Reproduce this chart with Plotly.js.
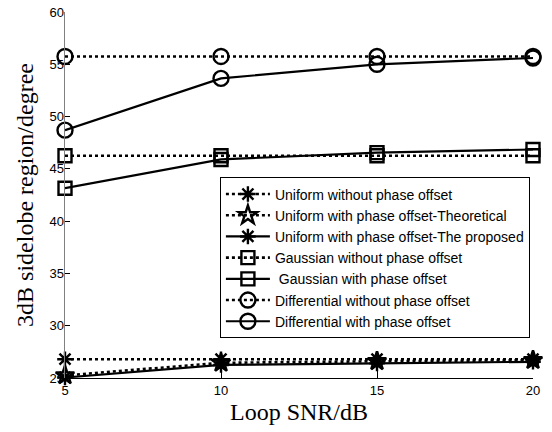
<!DOCTYPE html>
<html>
<head>
<meta charset="utf-8">
<script src="https://cdn.plot.ly/plotly-3.0.1.min.js"></script>
<style>html,body{margin:0;padding:0;background:#fff;}#chart{width:552px;height:432px;}</style>
</head>
<body>
<div id="chart"></div>
<script>
// Loop SNR values (dB)
const snr = [5, 10, 15, 20];

// 3 dB sidelobe region (degrees) for each scheme
const uniformNoOffset = [26.8, 26.8, 26.8, 26.8];
const uniformTheoretical = [25.25, 26.45, 26.6, 26.7];
const uniformProposed = [25.05, 26.25, 26.4, 26.55];
const gaussianNoOffset = [46.25, 46.25, 46.25, 46.25];
const gaussianOffset = [43.15, 45.9, 46.55, 46.85];
const differentialNoOffset = [55.75, 55.75, 55.75, 55.75];
const differentialOffset = [48.7, 53.65, 55.0, 55.6];

const seriesNames = [
  'Uniform without phase offset',
  'Uniform with phase offset-Theoretical',
  'Uniform with phase offset-The proposed',
  'Gaussian without phase offset',
  ' Gaussian with phase offset',
  'Differential without phase offset',
  'Differential with phase offset'
];

const yTicks = [25, 30, 35, 40, 45, 50, 55, 60];
const xTicks = [5, 10, 15, 20];

function series(y, name, dash, symbol, size) {
  return {
    x: snr, y: y, name: name, type: 'scatter', mode: 'lines+markers',
    cliponaxis: false,
    line: {color: '#000', width: dash === 'solid' ? 2.2 : 2.6, dash: dash},
    marker: {symbol: symbol, size: size, color: '#000',
             line: {color: '#000', width: 2.4}}
  };
}

const traces = [
  series(uniformNoOffset, seriesNames[0], 'dot', 'asterisk-open', 13),
  series(uniformTheoretical, seriesNames[1], 'dot', 'star-open', 14),
  series(uniformProposed, seriesNames[2], 'solid', 'asterisk-open', 13),
  series(gaussianNoOffset, seriesNames[3], 'dot', 'square-open', 13),
  series(gaussianOffset, seriesNames[4], 'solid', 'square-open', 13),
  series(differentialNoOffset, seriesNames[5], 'dot', 'circle-open', 15),
  series(differentialOffset, seriesNames[6], 'solid', 'circle-open', 15)
];

const layout = {
  width: 552, height: 432,
  margin: {l: 65, r: 19, t: 12, b: 54},
  paper_bgcolor: '#fff', plot_bgcolor: '#fff',
  font: {family: 'Liberation Sans, Arial, sans-serif', color: '#000', size: 13},
  showlegend: true,
  legend: {
    x: 0.331, y: 0.548, xanchor: 'left', yanchor: 'top',
    bgcolor: '#fff', bordercolor: '#000', borderwidth: 1,
    font: {family: 'Liberation Sans, Arial, sans-serif', size: 14, color: '#000'},
    itemwidth: 44, tracegroupgap: 0
  },
  xaxis: {
    range: [5, 20], tickvals: xTicks, ticktext: xTicks.map(String),
    showgrid: false, zeroline: false,
    showline: true, linecolor: '#000', linewidth: 1,
    ticks: 'inside', ticklen: 7, tickcolor: '#000', tickwidth: 1,
    tickfont: {size: 13, color: '#000'},
    title: {text: 'Loop SNR/dB', standoff: 6,
            font: {family: 'Liberation Serif, Times New Roman, serif', size: 24, color: '#000'}}
  },
  yaxis: {
    range: [25, 60], tickvals: yTicks, ticktext: yTicks.map(String),
    showgrid: false, zeroline: false,
    showline: true, linecolor: '#808080', linewidth: 1.5,
    ticks: 'inside', ticklen: 5, tickcolor: '#000', tickwidth: 1,
    ticklabelstandoff: -3,
    tickfont: {size: 13, color: '#000'},
    title: {text: '3dB sidelobe region/degree', standoff: 9,
            font: {family: 'Liberation Serif, Times New Roman, serif', size: 24, color: '#000'}}
  }
};

Plotly.newPlot('chart', traces, layout, {displayModeBar: false, staticPlot: true});
</script>
</body>
</html>
